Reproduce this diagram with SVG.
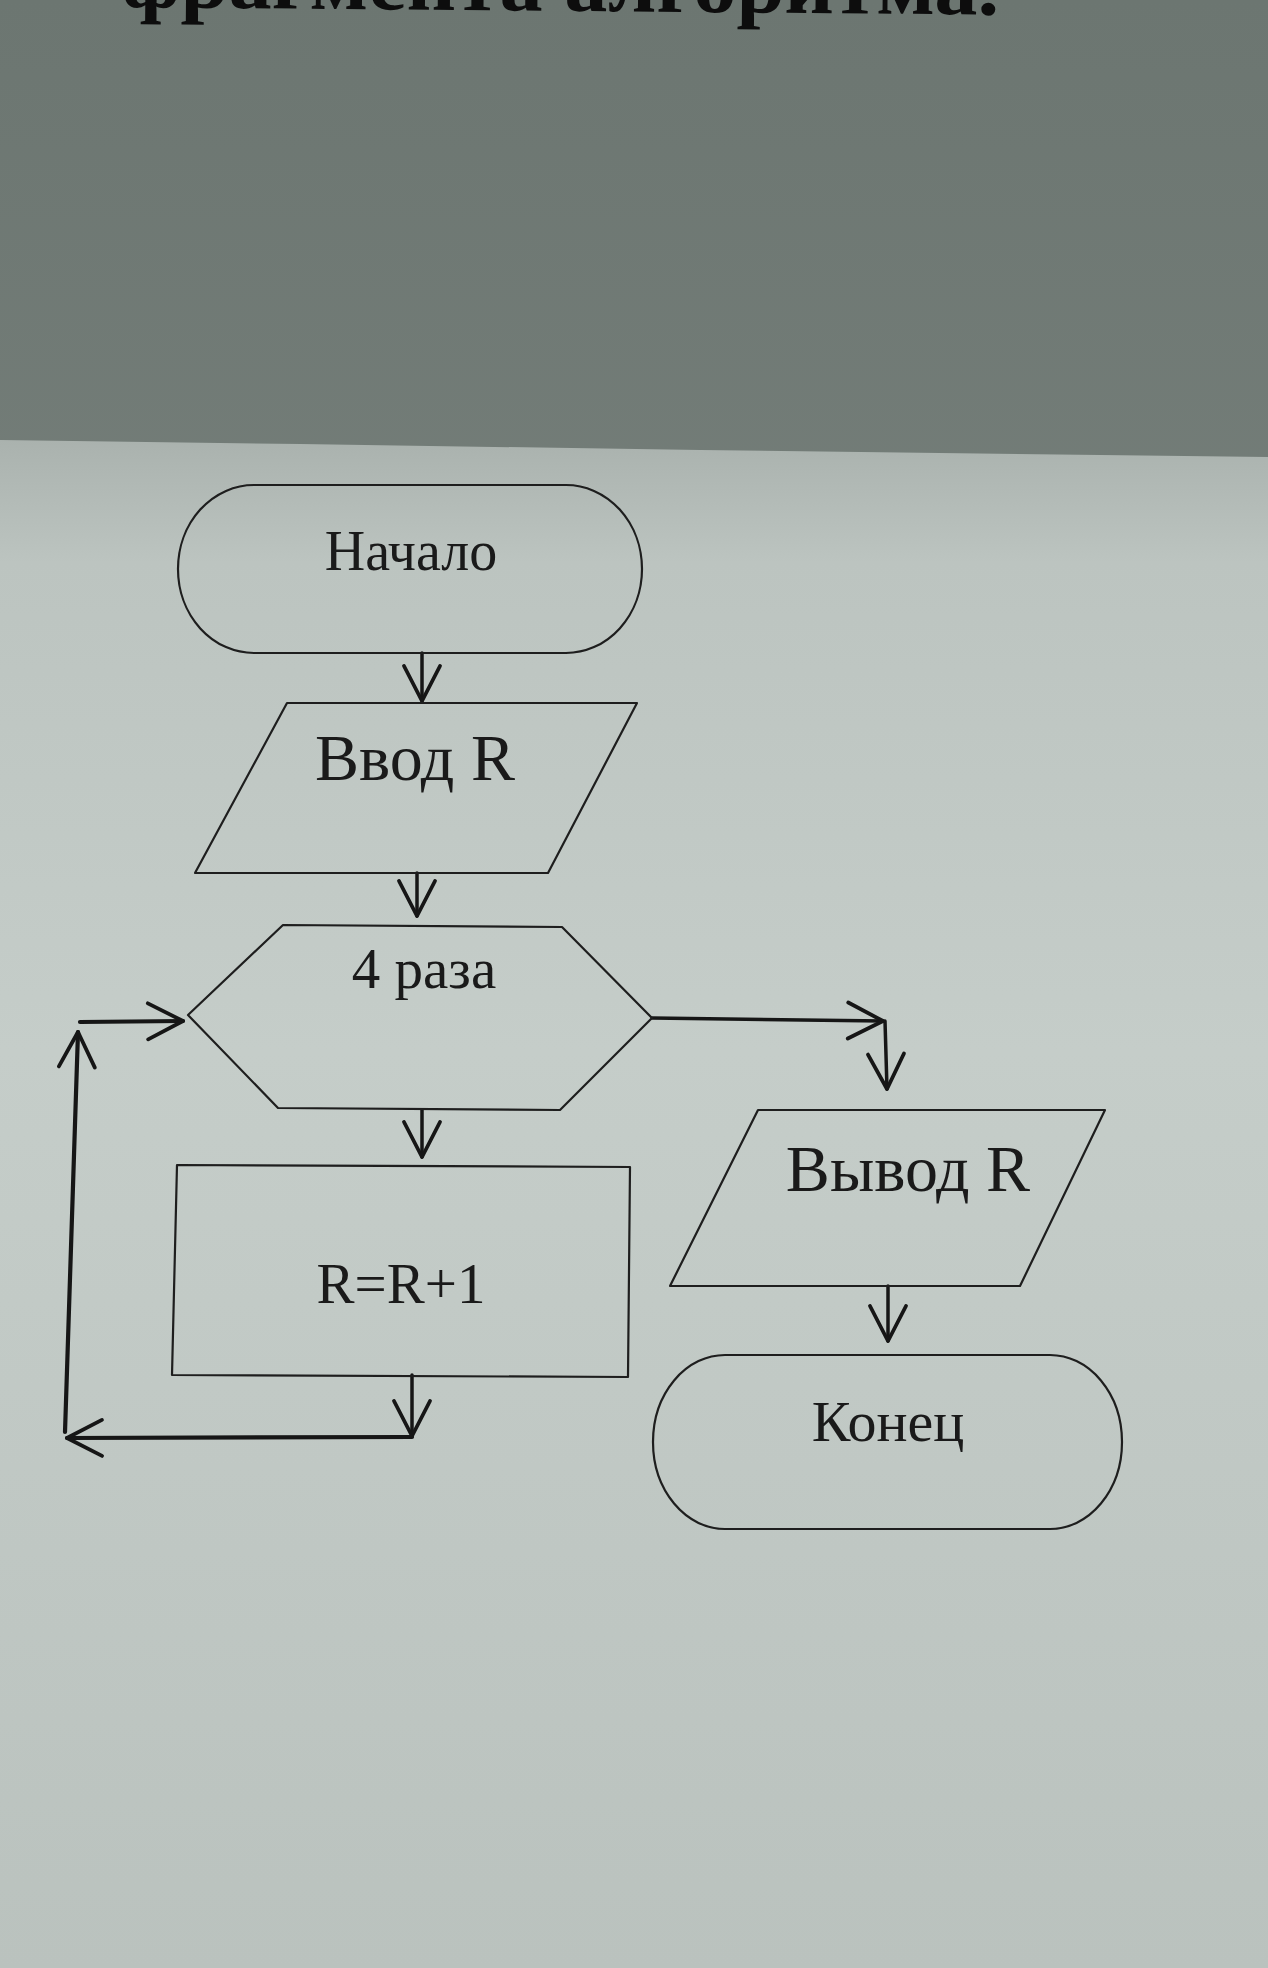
<svg xmlns="http://www.w3.org/2000/svg" width="1268" height="1968" viewBox="0 0 1268 1968">
<defs>
<linearGradient id="gTop" x1="0" y1="0" x2="0" y2="1">
<stop offset="0" stop-color="#6c7671"/>
<stop offset="1" stop-color="#878f8b"/>
</linearGradient>
<linearGradient id="gPage" x1="0" y1="0" x2="0" y2="1">
<stop offset="0" stop-color="#aab2ae"/>
<stop offset="0.08" stop-color="#bcc4c0"/>
<stop offset="0.4" stop-color="#c5cdc9"/>
<stop offset="1" stop-color="#bac2be"/>
</linearGradient>
<marker id="arr" markerUnits="userSpaceOnUse" markerWidth="44" markerHeight="44" viewBox="0 0 44 44" refX="40" refY="22" orient="auto">
<path d="M5,4 L40,22 L5,40" fill="none" stroke="#161616" stroke-width="3.8" stroke-linecap="round" stroke-linejoin="round"/>
</marker>
</defs>
<style>
.shape{fill:none;stroke:#1e1e1e;stroke-width:2.2;stroke-linejoin:round}
.conn{fill:none;stroke:#161616;stroke-width:3.5;stroke-linecap:round}
.thick{stroke-width:4.2}
.lbl{font-family:"Liberation Serif","Times New Roman",serif;fill:#1a1a1a;text-anchor:middle}
.title{font-family:"Liberation Serif","Times New Roman",serif;fill:#0d0d0d;font-weight:bold}
</style>
<rect x="0" y="0" width="1268" height="1968" fill="url(#gTop)"/>
<path d="M0,440 L300,444 L700,450 L1268,457 L1268,1968 L0,1968 Z" fill="url(#gPage)"/>
<text class="title" x="121" y="7" font-size="80" textLength="878" lengthAdjust="spacingAndGlyphs" transform="rotate(0.5 121 7)">фрагмента алгоритма.</text>

<g id="connectors">
<line class="conn" x1="422" y1="653" x2="422" y2="701" marker-end="url(#arr)"/>
<line class="conn" x1="417" y1="873" x2="417" y2="916" marker-end="url(#arr)"/>
<line class="conn" x1="422" y1="1110" x2="422" y2="1157" marker-end="url(#arr)"/>
<line class="conn" x1="412" y1="1375" x2="412" y2="1436" marker-end="url(#arr)"/>
<line class="conn thick" x1="412" y1="1437" x2="67" y2="1438" marker-end="url(#arr)"/>
<line class="conn thick" x1="65" y1="1432" x2="78" y2="1032" marker-end="url(#arr)"/>
<line class="conn thick" x1="80" y1="1022" x2="183" y2="1021" marker-end="url(#arr)"/>
<line class="conn" x1="652" y1="1018" x2="883" y2="1021" marker-end="url(#arr)"/>
<line class="conn" x1="885" y1="1021" x2="887" y2="1089" marker-end="url(#arr)"/>
<line class="conn" x1="888" y1="1286" x2="888" y2="1341" marker-end="url(#arr)"/>
</g>

<g id="start">
<rect class="shape" x="178" y="485" width="464" height="168" rx="76" ry="84"/>
<text class="lbl" x="411" y="570" font-size="56">Начало</text>
</g>
<g id="input">
<polygon class="shape" points="287,703 637,703 548,873 195,873"/>
<text class="lbl" x="415" y="780" font-size="66">Ввод R</text>
</g>
<g id="loop">
<polygon class="shape" points="188,1015 283,925 562,927 652,1018 560,1110 278,1108"/>
<text class="lbl" x="424" y="988" font-size="57">4 раза</text>
</g>
<g id="process">
<polygon class="shape" points="177,1165 630,1167 628,1377 172,1375"/>
<text class="lbl" x="401" y="1303" font-size="57">R=R+1</text>
</g>
<g id="output">
<polygon class="shape" points="758,1110 1105,1110 1020,1286 670,1286"/>
<text class="lbl" x="908" y="1191" font-size="66">Вывод R</text>
</g>
<g id="end">
<rect class="shape" x="653" y="1355" width="469" height="174" rx="72" ry="87"/>
<text class="lbl" x="888" y="1441" font-size="58">Конец</text>
</g>
</svg>
